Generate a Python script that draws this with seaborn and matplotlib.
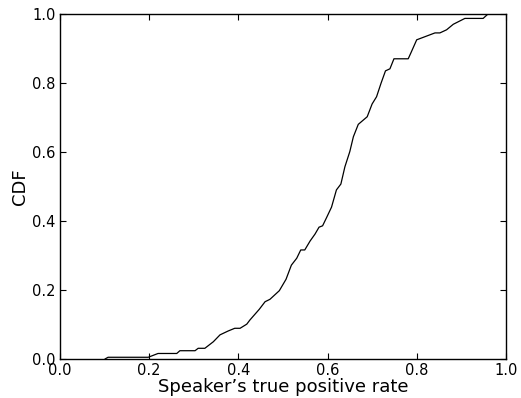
import matplotlib
matplotlib.use("Agg")
import matplotlib.pyplot as plt
import seaborn as sns
import pandas as pd

true_positive_rate = [0.101, 0.108, 0.198, 0.22, 0.262, 0.269, 0.303, 0.31, 0.325,
                      0.344, 0.359, 0.377, 0.392, 0.404, 0.419, 0.426, 0.447, 0.46, 0.471,
                      0.492, 0.507, 0.519, 0.531, 0.54, 0.549, 0.561, 0.572, 0.581, 0.589,
                      0.598, 0.609, 0.62, 0.63, 0.639, 0.65, 0.658, 0.669, 0.689, 0.7,
                      0.71, 0.72, 0.73, 0.74, 0.749, 0.781, 0.788, 0.8, 0.841, 0.852,
                      0.867, 0.882, 0.908, 0.949, 0.96, 1.0]
cdf = [0.0, 0.005, 0.005, 0.016, 0.016, 0.024, 0.024, 0.031, 0.031,
       0.05, 0.07, 0.081, 0.089, 0.089, 0.101, 0.113, 0.144, 0.166, 0.173,
       0.198, 0.231, 0.272, 0.292, 0.316, 0.316, 0.342, 0.362, 0.382, 0.386,
       0.41, 0.44, 0.49, 0.507, 0.557, 0.601, 0.644, 0.68, 0.702, 0.739,
       0.76, 0.799, 0.835, 0.841, 0.87, 0.87, 0.89, 0.925, 0.945, 0.945,
       0.954, 0.97, 0.987, 0.987, 1.0, 1.0]
tick_values = [0.0, 0.2, 0.4, 0.6, 0.8, 1.0]
tick_labels = ["0.0", "0.2", "0.4", "0.6", "0.8", "1.0"]

df = pd.DataFrame({"x": true_positive_rate, "y": cdf})

sns.set_style("white")
plt.rcParams['font.family'] = ['DejaVu Sans']
plt.rcParams['text.color'] = 'black'
plt.rcParams['axes.labelcolor'] = 'black'

fig = plt.figure(figsize=(5.21, 3.98), dpi=100)
ax = fig.add_axes([0.115, 0.098, 0.856, 0.867])
sns.lineplot(data=df, x="x", y="y", ax=ax, color="black", linewidth=0.9,
             estimator=None, sort=False)

ax.set_xlim(0, 1)
ax.set_ylim(0, 1)
ax.set_xticks(tick_values)
ax.set_yticks(tick_values)
ax.set_xticklabels(tick_labels)
ax.set_yticklabels(tick_labels)
ax.tick_params(direction="in", length=4, width=0.8, colors="black", labelsize=10.5,
               top=True, right=True, bottom=True, left=True, pad=3)
for s in ax.spines.values():
    s.set_color("black")
    s.set_linewidth(1.0)
ax.set_xlabel("Speaker\u2019s true positive rate", fontsize=13, labelpad=0)
ax.set_ylabel("CDF", fontsize=13, labelpad=2)

fig.savefig("out.png", dpi=100)
